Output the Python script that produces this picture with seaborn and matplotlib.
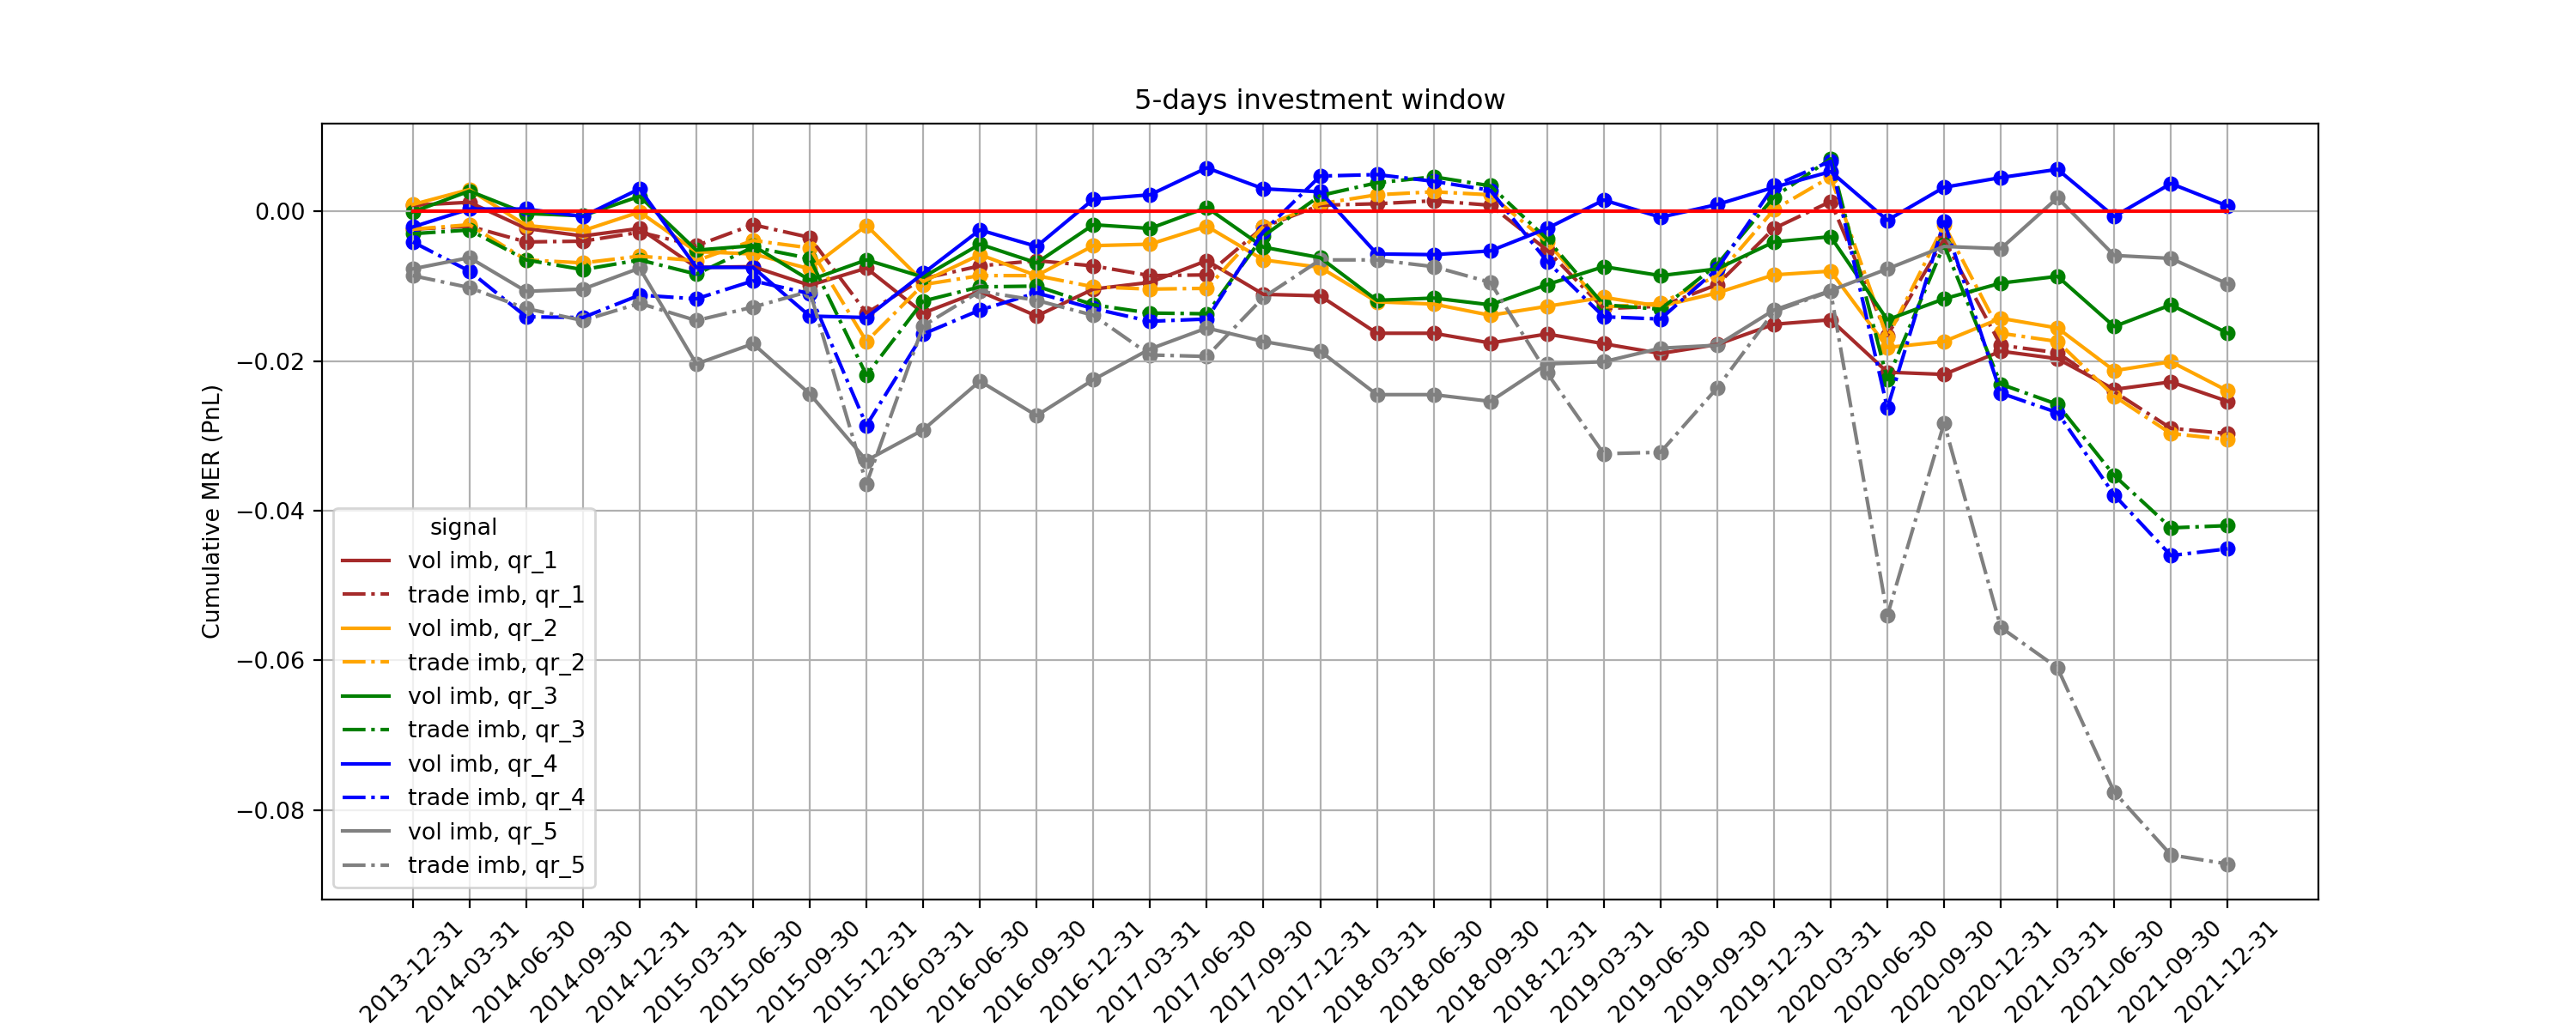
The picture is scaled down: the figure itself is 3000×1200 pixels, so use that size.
import matplotlib
matplotlib.use("Agg")
import matplotlib.pyplot as plt
import seaborn as sns
import pandas as pd

dates = ["2013-12-31", "2014-03-31", "2014-06-30", "2014-09-30", "2014-12-31",
         "2015-03-31", "2015-06-30", "2015-09-30", "2015-12-31", "2016-03-31",
         "2016-06-30", "2016-09-30", "2016-12-31", "2017-03-31", "2017-06-30",
         "2017-09-30", "2017-12-31", "2018-03-31", "2018-06-30", "2018-09-30",
         "2018-12-31", "2019-03-31", "2019-06-30", "2019-09-30", "2019-12-31",
         "2020-03-31", "2020-06-30", "2020-09-30", "2020-12-31", "2021-03-31",
         "2021-06-30", "2021-09-30", "2021-12-31"]

vol_qr1 = [0.0008, 0.0012, -0.0023, -0.0033, -0.0023, -0.0075, -0.0074, -0.0099, -0.0076, -0.0136,
           -0.0107, -0.0140, -0.0104, -0.0095, -0.0066, -0.0111, -0.0113, -0.0163, -0.0163, -0.0176,
           -0.0164, -0.0177, -0.0190, -0.0178, -0.0151, -0.0145, -0.0215, -0.0218, -0.0187, -0.0197,
           -0.0238, -0.0228, -0.0254]
trade_qr1 = [-0.0024, -0.0020, -0.0041, -0.0040, -0.0028, -0.0046, -0.0018, -0.0035, -0.0136, -0.0090,
             -0.0073, -0.0066, -0.0073, -0.0086, -0.0085, -0.0021, 0.0008, 0.0010, 0.0014, 0.0008,
             -0.0052, -0.0130, -0.0127, -0.0098, -0.0023, 0.0013, -0.0166, -0.0038, -0.0179, -0.0189,
             -0.0241, -0.0290, -0.0297]
vol_qr2 = [0.0009, 0.0029, -0.0019, -0.0026, -0.0001, -0.0054, -0.0057, -0.0077, -0.0019, -0.0094,
           -0.0058, -0.0086, -0.0046, -0.0044, -0.0020, -0.0065, -0.0075, -0.0121, -0.0124, -0.0139,
           -0.0127, -0.0115, -0.0127, -0.0109, -0.0085, -0.0080, -0.0182, -0.0174, -0.0143, -0.0156,
           -0.0213, -0.0201, -0.0240]
trade_qr2 = [-0.0024, -0.0018, -0.0065, -0.0069, -0.0060, -0.0066, -0.0039, -0.0049, -0.0174, -0.0098,
             -0.0086, -0.0086, -0.0101, -0.0104, -0.0103, -0.0020, 0.0010, 0.0022, 0.0026, 0.0022,
             -0.0041, -0.0128, -0.0123, -0.0086, 0.0002, 0.0046, -0.0169, -0.0018, -0.0163, -0.0174,
             -0.0247, -0.0297, -0.0305]
vol_qr3 = [-0.0001, 0.0027, -0.0003, -0.0006, 0.0020, -0.0052, -0.0046, -0.0092, -0.0065, -0.0088,
           -0.0044, -0.0069, -0.0018, -0.0023, 0.0005, -0.0048, -0.0062, -0.0119, -0.0116, -0.0125,
           -0.0098, -0.0074, -0.0086, -0.0077, -0.0041, -0.0034, -0.0145, -0.0117, -0.0096, -0.0087,
           -0.0154, -0.0125, -0.0163]
trade_qr3 = [-0.0030, -0.0025, -0.0065, -0.0078, -0.0065, -0.0084, -0.0048, -0.0063, -0.0219, -0.0120,
             -0.0101, -0.0100, -0.0125, -0.0136, -0.0137, -0.0033, 0.0021, 0.0038, 0.0046, 0.0034,
             -0.0037, -0.0125, -0.0131, -0.0071, 0.0019, 0.0070, -0.0225, -0.0045, -0.0231, -0.0258,
             -0.0353, -0.0423, -0.0420]
vol_qr4 = [-0.0021, 0.0003, 0.0003, -0.0007, 0.0030, -0.0075, -0.0075, -0.0140, -0.0142, -0.0083,
           -0.0025, -0.0047, 0.0016, 0.0022, 0.0058, 0.0030, 0.0026, -0.0057, -0.0058, -0.0053,
           -0.0023, 0.0015, -0.0008, 0.0009, 0.0032, 0.0053, -0.0012, 0.0032, 0.0045, 0.0056,
           -0.0007, 0.0037, 0.0007]
trade_qr4 = [-0.0041, -0.0080, -0.0141, -0.0142, -0.0112, -0.0117, -0.0093, -0.0110, -0.0286, -0.0164,
             -0.0132, -0.0109, -0.0130, -0.0147, -0.0144, -0.0027, 0.0047, 0.0049, 0.0040, 0.0028,
             -0.0067, -0.0141, -0.0144, -0.0077, 0.0034, 0.0067, -0.0263, -0.0014, -0.0243, -0.0269,
             -0.0379, -0.0460, -0.0451]
vol_qr5 = [-0.0077, -0.0062, -0.0107, -0.0104, -0.0076, -0.0204, -0.0177, -0.0244, -0.0333, -0.0292,
           -0.0227, -0.0273, -0.0225, -0.0184, -0.0156, -0.0174, -0.0187, -0.0245, -0.0245, -0.0254,
           -0.0204, -0.0201, -0.0183, -0.0179, -0.0132, -0.0106, -0.0077, -0.0047, -0.0050, 0.0018,
           -0.0059, -0.0063, -0.0097]
trade_qr5 = [-0.0086, -0.0102, -0.0130, -0.0146, -0.0123, -0.0146, -0.0128, -0.0107, -0.0364, -0.0153,
             -0.0107, -0.0119, -0.0139, -0.0192, -0.0194, -0.0115, -0.0065, -0.0065, -0.0074, -0.0095,
             -0.0216, -0.0324, -0.0322, -0.0236, -0.0134, -0.0107, -0.0540, -0.0283, -0.0556, -0.0610,
             -0.0776, -0.0860, -0.0872]
zero_line = [0.0] * len(dates)

signal_names = ["vol imb, qr_1", "trade imb, qr_1", "vol imb, qr_2", "trade imb, qr_2",
                "vol imb, qr_3", "trade imb, qr_3", "vol imb, qr_4", "trade imb, qr_4",
                "vol imb, qr_5", "trade imb, qr_5"]
series = [vol_qr1, trade_qr1, vol_qr2, trade_qr2, vol_qr3, trade_qr3,
          vol_qr4, trade_qr4, vol_qr5, trade_qr5]
colors = ["brown", "brown", "orange", "orange", "green", "green",
          "blue", "blue", "gray", "gray"]
styles = ["-", "-.", "-", "-.", "-", "-.", "-", "-.", "-", "-."]

plt.rcParams["font.size"] = 9.7

fig, ax = plt.subplots(figsize=(15, 6), dpi=200)
fig.subplots_adjust(left=0.125, right=0.9, top=0.88, bottom=0.127)

for name, vals, col, ls in zip(signal_names, series, colors, styles):
    df = pd.DataFrame({"date": dates, "value": vals})
    sns.lineplot(data=df, x="date", y="value", color=col, linestyle=ls,
                 linewidth=1.5, label=name, ax=ax, sort=False)
    sns.scatterplot(data=df, x="date", y="value", color=col, s=42,
                    linewidth=0, legend=False, ax=ax)

zdf = pd.DataFrame({"date": dates, "value": zero_line})
sns.lineplot(data=zdf, x="date", y="value", color="red", linewidth=1.5,
             ax=ax, sort=False, legend=False)

ax.grid(True)
ax.set_title("5-days investment window")
ax.set_xlabel("")
ax.set_ylabel("Cumulative MER (PnL)")
ax.tick_params(axis="x", labelrotation=45)
ax.legend(title="signal", loc="lower left", labelspacing=0.5)

fig.savefig("out.png", dpi=200)
